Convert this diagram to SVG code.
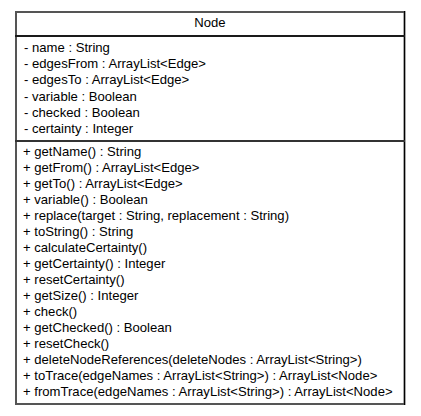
<svg xmlns="http://www.w3.org/2000/svg" width="421" height="416" viewBox="0 0 421 416">
<style>
text{font-family:"Liberation Sans",Arial,sans-serif;font-size:13.1px;fill:#000}
.t{text-anchor:middle}
</style>
<rect width="421" height="416" fill="#fff"/>
<g id="node-Node">
<rect x="16" y="12" width="388.5" height="392" fill="#fff" stroke="#555" stroke-width="2"/>
<line x1="404.5" y1="11" x2="404.5" y2="405" stroke="#000" stroke-width="1"/>
<line x1="15" y1="36" x2="405" y2="36" stroke="#1a1a1a" stroke-width="2"/>
<line x1="15" y1="141" x2="405" y2="141" stroke="#333" stroke-width="2"/>
<text class="t" x="210" y="27">Node</text>
<text x="24" y="52">- name : String</text>
<text x="24" y="68.2">- edgesFrom : ArrayList&lt;Edge&gt;</text>
<text x="24" y="84.4">- edgesTo : ArrayList&lt;Edge&gt;</text>
<text x="24" y="100.6">- variable : Boolean</text>
<text x="24" y="116.8">- checked : Boolean</text>
<text x="24" y="133">- certainty : Integer</text>
<text x="23" y="156">+ getName() : String</text>
<text x="23" y="172">+ getFrom() : ArrayList&lt;Edge&gt;</text>
<text x="23" y="188">+ getTo() : ArrayList&lt;Edge&gt;</text>
<text x="23" y="204">+ variable() : Boolean</text>
<text x="23" y="220">+ replace(target : String, replacement : String)</text>
<text x="23" y="236">+ toString() : String</text>
<text x="23" y="252">+ calculateCertainty()</text>
<text x="23" y="268">+ getCertainty() : Integer</text>
<text x="23" y="284">+ resetCertainty()</text>
<text x="23" y="300">+ getSize() : Integer</text>
<text x="23" y="316">+ check()</text>
<text x="23" y="332">+ getChecked() : Boolean</text>
<text x="23" y="348">+ resetCheck()</text>
<text x="23" y="364">+ deleteNodeReferences(deleteNodes : ArrayList&lt;String&gt;)</text>
<text x="23" y="380">+ toTrace(edgeNames : ArrayList&lt;String&gt;) : ArrayList&lt;Node&gt;</text>
<text x="23" y="396">+ fromTrace(edgeNames : ArrayList&lt;String&gt;) : ArrayList&lt;Node&gt;</text>
</g>
<g id="connectors"></g>
</svg>
